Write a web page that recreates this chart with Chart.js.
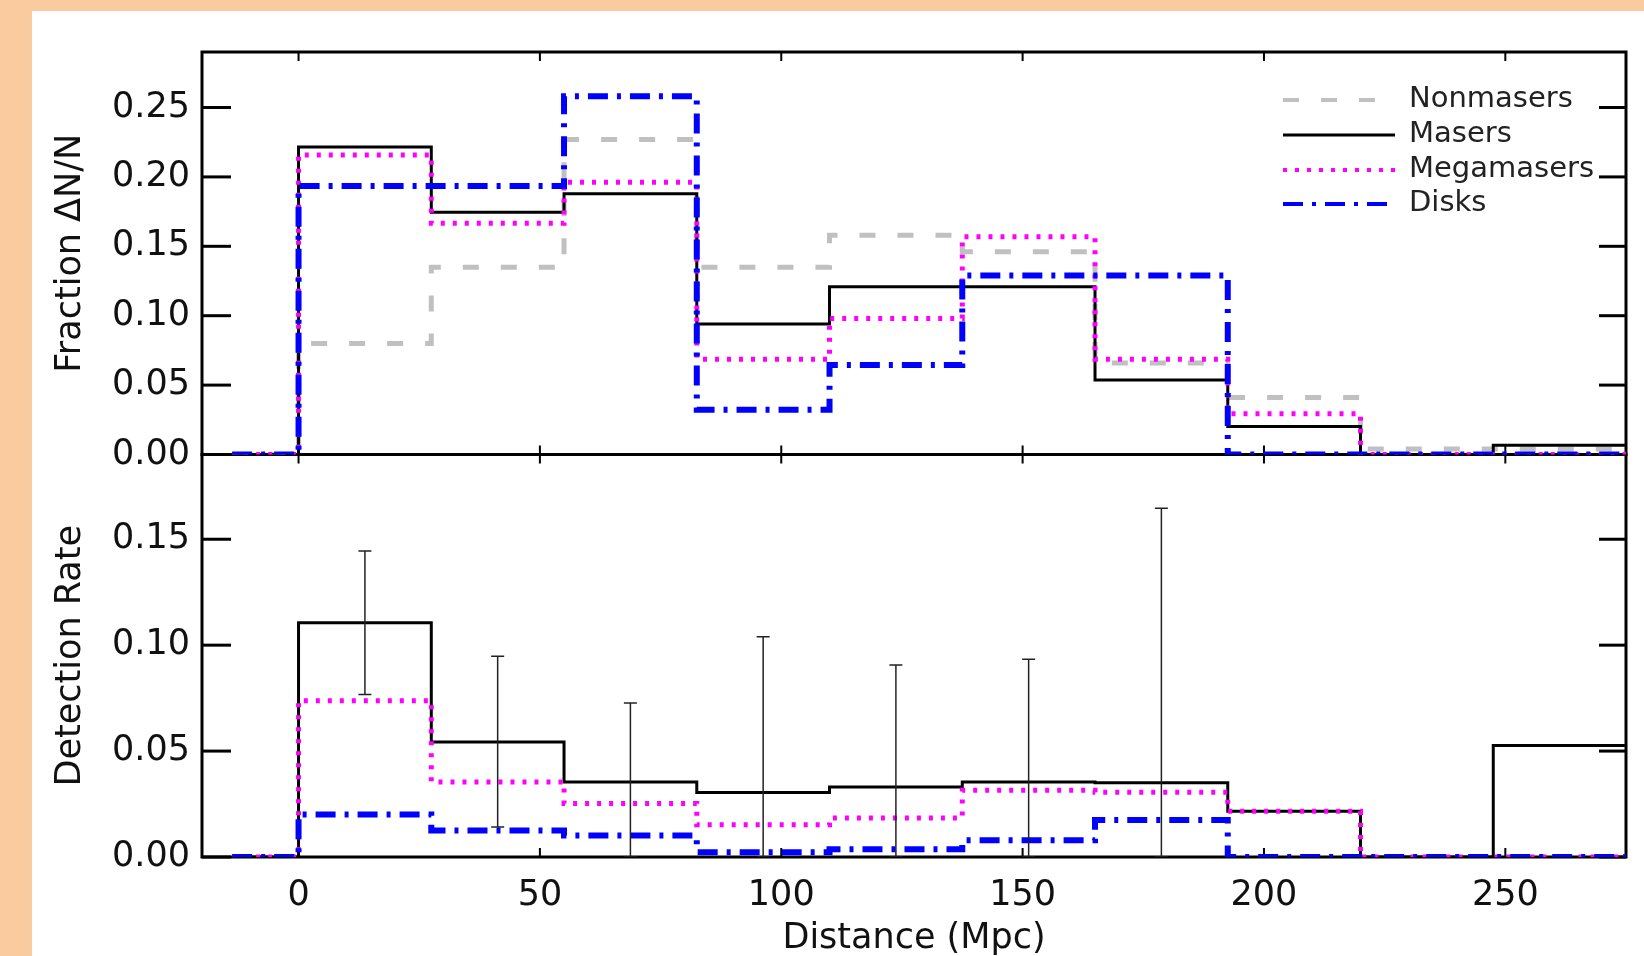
<!DOCTYPE html>
<html>
<head>
<meta charset="utf-8">
<title>Distance distributions</title>
<script src="https://cdn.jsdelivr.net/npm/chart.js@4.4.1/dist/chart.umd.min.js"></script>
<style>
  html, body { margin: 0; padding: 0; background: #fbcba0; }
  #wrap { width: 1644px; height: 956px; }
</style>
</head>
<body>
<div id="wrap"><canvas id="distance-chart" width="1644" height="956"></canvas></div>
<script>
// bin edges (Mpc), histogram drawn from a half bin below 0 up to 275
const binLeft = [0, 27.5, 55, 82.5, 110, 137.5, 165, 192.5, 220, 247.5];
const histStart = -13.75;
const histEnd = 275;

// top panel: fraction dN/N
const nonmasersFrac = [0.080, 0.135, 0.227, 0.135, 0.158, 0.146, 0.066, 0.041, 0.004, 0.004];
const masersFrac = [0.2215, 0.1745, 0.1879, 0.0940, 0.1208, 0.1208, 0.0537, 0.0201, 0.000, 0.0067];
const megamasersFrac = [0.2157, 0.1667, 0.1961, 0.0686, 0.0980, 0.1569, 0.0686, 0.0294, 0.000, 0.000];
const disksFrac = [0.1935, 0.1935, 0.2581, 0.0323, 0.0645, 0.1290, 0.1290, 0.000, 0.000, 0.000];

// bottom panel: detection rate
const masersRate = [0.1106, 0.0543, 0.0354, 0.0304, 0.0331, 0.0354, 0.0350, 0.0216, 0.000, 0.0526];
const megamasersRate = [0.0738, 0.0354, 0.0253, 0.0152, 0.0184, 0.0315, 0.0306, 0.0216, 0.000, 0.000];
const disksRate = [0.0201, 0.0125, 0.0101, 0.0022, 0.0037, 0.0079, 0.0175, 0.000, 0.000, 0.000];

// error bars on the maser detection rate
const errCenters = [13.75, 41.25, 68.75, 96.25, 123.75, 151.25, 178.75];
const errLow = [0.0767, 0.0142, 0, 0, 0, 0, 0];
const errHigh = [0.1445, 0.0948, 0.0727, 0.1040, 0.0906, 0.0933, 0.1646];

// tick labels
const distTicks = [0, 50, 100, 150, 200, 250];
const fracTicks = [0, 0.05, 0.10, 0.15, 0.20, 0.25];
const rateTicks = [0, 0.05, 0.10, 0.15];

const legendLabels = ["Nonmasers", "Masers", "Megamasers", "Disks"];

document.addEventListener("DOMContentLoaded", function () {
    const fontFamily = "'DejaVu Sans', 'Liberation Sans', sans-serif";
    const textColor = "#111";

    function stepPoints(vals) {
        const pts = [{x: histStart, y: 0}];
        binLeft.forEach((b, i) => pts.push({x: b, y: vals[i]}));
        pts.push({x: histEnd, y: vals[vals.length - 1]});
        return pts;
    }

    function errorPoints() {
        const pts = [];
        errCenters.forEach((c, i) => {
            pts.push({x: c, y: errLow[i]});
            pts.push({x: c, y: errHigh[i]});
            pts.push({x: c, y: null});
        });
        return pts;
    }

    const styles = {
        Nonmasers: {borderColor: "#c0c0c0", borderWidth: 5, borderDash: [16, 22]},
        Masers: {borderColor: "#000000", borderWidth: 3, borderDash: []},
        Megamasers: {borderColor: "#ff00ff", borderWidth: 5, borderDash: [4, 8]},
        Disks: {borderColor: "#0000ff", borderWidth: 6, borderDash: [20, 9, 4, 9]}
    };
    const drawOrder = {Nonmasers: 4, Masers: 3, Megamasers: 2, Disks: 1};

    function histDataset(label, vals, axis) {
        return Object.assign({
            label: label,
            data: stepPoints(vals),
            yAxisID: axis,
            stepped: "before",
            pointRadius: 0,
            fill: false,
            order: drawOrder[label]
        }, styles[label]);
    }

    const datasets = [
        histDataset("Nonmasers", nonmasersFrac, "yTop"),
        histDataset("Masers", masersFrac, "yTop"),
        histDataset("Megamasers", megamasersFrac, "yTop"),
        histDataset("Disks", disksFrac, "yTop"),
        histDataset("Masers", masersRate, "yBot"),
        histDataset("Megamasers", megamasersRate, "yBot"),
        histDataset("Disks", disksRate, "yBot"),
        {
            label: "errors",
            data: errorPoints(),
            yAxisID: "yBot",
            spanGaps: false,
            borderColor: "#222",
            borderWidth: 1.5,
            pointStyle: "line",
            pointRadius: 6.5,
            pointBorderWidth: 1.5,
            pointBorderColor: "#222",
            order: 0
        }
    ];

    // peach page with white sheet
    const backgroundPlugin = {
        id: "sheet",
        beforeDraw(chart) {
            const ctx = chart.ctx;
            ctx.save();
            ctx.fillStyle = "#fbcba0";
            ctx.fillRect(0, 0, chart.width, chart.height);
            ctx.fillStyle = "#ffffff";
            ctx.fillRect(32, 11, chart.width - 32, chart.height - 11);
            ctx.restore();
        }
    };

    // box around each panel with inward ticks
    const framePlugin = {
        id: "frame",
        beforeDatasetsDraw(chart) {
            const ctx = chart.ctx;
            const x = chart.scales.x, yT = chart.scales.yTop, yB = chart.scales.yBot;
            const L = x.left, R = x.right;
            function seg(x1, y1, x2, y2) {
                ctx.beginPath();
                ctx.moveTo(x1, y1);
                ctx.lineTo(x2, y2);
                ctx.stroke();
            }
            ctx.save();
            ctx.strokeStyle = "#000";
            ctx.lineWidth = 3;
            [yT, yB].forEach(y => ctx.strokeRect(L, y.top, R - L, y.bottom - y.top));
            [[yT, fracTicks], [yB, rateTicks]].forEach(([y, ticks]) => {
                ticks.forEach(v => {
                    const p = y.getPixelForValue(v);
                    seg(L, p, L + 29, p);
                    seg(R, p, R - 27, p);
                });
            });
            ctx.lineWidth = 2;
            distTicks.forEach(v => {
                const p = x.getPixelForValue(v);
                [yT, yB].forEach(y => {
                    seg(p, y.top, p, y.top + 9);
                    seg(p, y.bottom, p, y.bottom - 9);
                });
            });
            ctx.restore();
        }
    };

    // legend inside the top panel, upper right
    const legendPlugin = {
        id: "histLegend",
        afterDraw(chart) {
            const ctx = chart.ctx;
            const area = chart.chartArea;
            const rows = [48, 83, 118, 152];
            ctx.save();
            legendLabels.forEach((name, i) => {
                const st = styles[name];
                const y = area.top + rows[i];
                ctx.strokeStyle = st.borderColor;
                ctx.lineWidth = Math.min(st.borderWidth, 4);
                ctx.setLineDash(st.borderDash);
                ctx.beginPath();
                ctx.moveTo(area.right - 343, y);
                ctx.lineTo(area.right - 231, y);
                ctx.stroke();
                ctx.setLineDash([]);
                ctx.fillStyle = "#222";
                ctx.font = "29px " + fontFamily;
                ctx.textBaseline = "middle";
                ctx.textAlign = "left";
                ctx.fillText(name, area.right - 217, y - 1);
            });
            ctx.restore();
        }
    };

    const tickFont = {family: fontFamily, size: 35};
    const titleFont = {family: fontFamily, size: 35, lineHeight: 1.0};

    // note: left-stacked axes are laid out last-defined first, so yBot comes before yTop here
    new Chart(document.getElementById("distance-chart").getContext("2d"), {
        type: "line",
        data: {datasets: datasets},
        options: {
            responsive: false,
            animation: false,
            layout: {padding: {top: 52, right: 18, left: 0, bottom: 0}},
            plugins: {
                legend: {display: false},
                tooltip: {enabled: false}
            },
            scales: {
                x: {
                    type: "linear",
                    min: -20,
                    max: 275,
                    afterBuildTicks: s => { s.ticks = distTicks.map(v => ({value: v})); },
                    afterFit: s => { s.height = 99; },
                    grid: {display: false, drawTicks: false},
                    border: {display: false},
                    ticks: {padding: 18, font: tickFont, color: textColor, maxRotation: 0,
                        callback: v => String(v)},
                    title: {display: true, text: "Distance (Mpc)", font: titleFont, color: textColor,
                        padding: {top: 0, bottom: 0}}
                },
                yBot: {
                    type: "linear",
                    position: "left",
                    stack: "panels",
                    stackWeight: 1,
                    min: 0,
                    max: 0.19,
                    afterBuildTicks: s => { s.ticks = rateTicks.map(v => ({value: v})); },
                    afterFit: s => { s.width = 202; },
                    grid: {display: false, drawTicks: false},
                    border: {display: false},
                    ticks: {padding: 12, font: tickFont, color: textColor, callback: v => v.toFixed(2)},
                    title: {display: true, text: "Detection Rate", font: titleFont, color: textColor,
                        padding: {top: 53, bottom: 0}}
                },
                yTop: {
                    type: "linear",
                    position: "left",
                    stack: "panels",
                    stackWeight: 1,
                    min: 0,
                    max: 0.29,
                    afterBuildTicks: s => { s.ticks = fracTicks.map(v => ({value: v})); },
                    afterFit: s => { s.width = 202; },
                    grid: {display: false, drawTicks: false},
                    border: {display: false},
                    ticks: {padding: 12, font: tickFont, color: textColor, callback: v => v.toFixed(2)},
                    title: {display: true, text: "Fraction ΔN/N", font: titleFont, color: textColor,
                        padding: {top: 53, bottom: 0}}
                }
            }
        },
        plugins: [backgroundPlugin, framePlugin, legendPlugin]
    });
});
</script>
</body>
</html>
